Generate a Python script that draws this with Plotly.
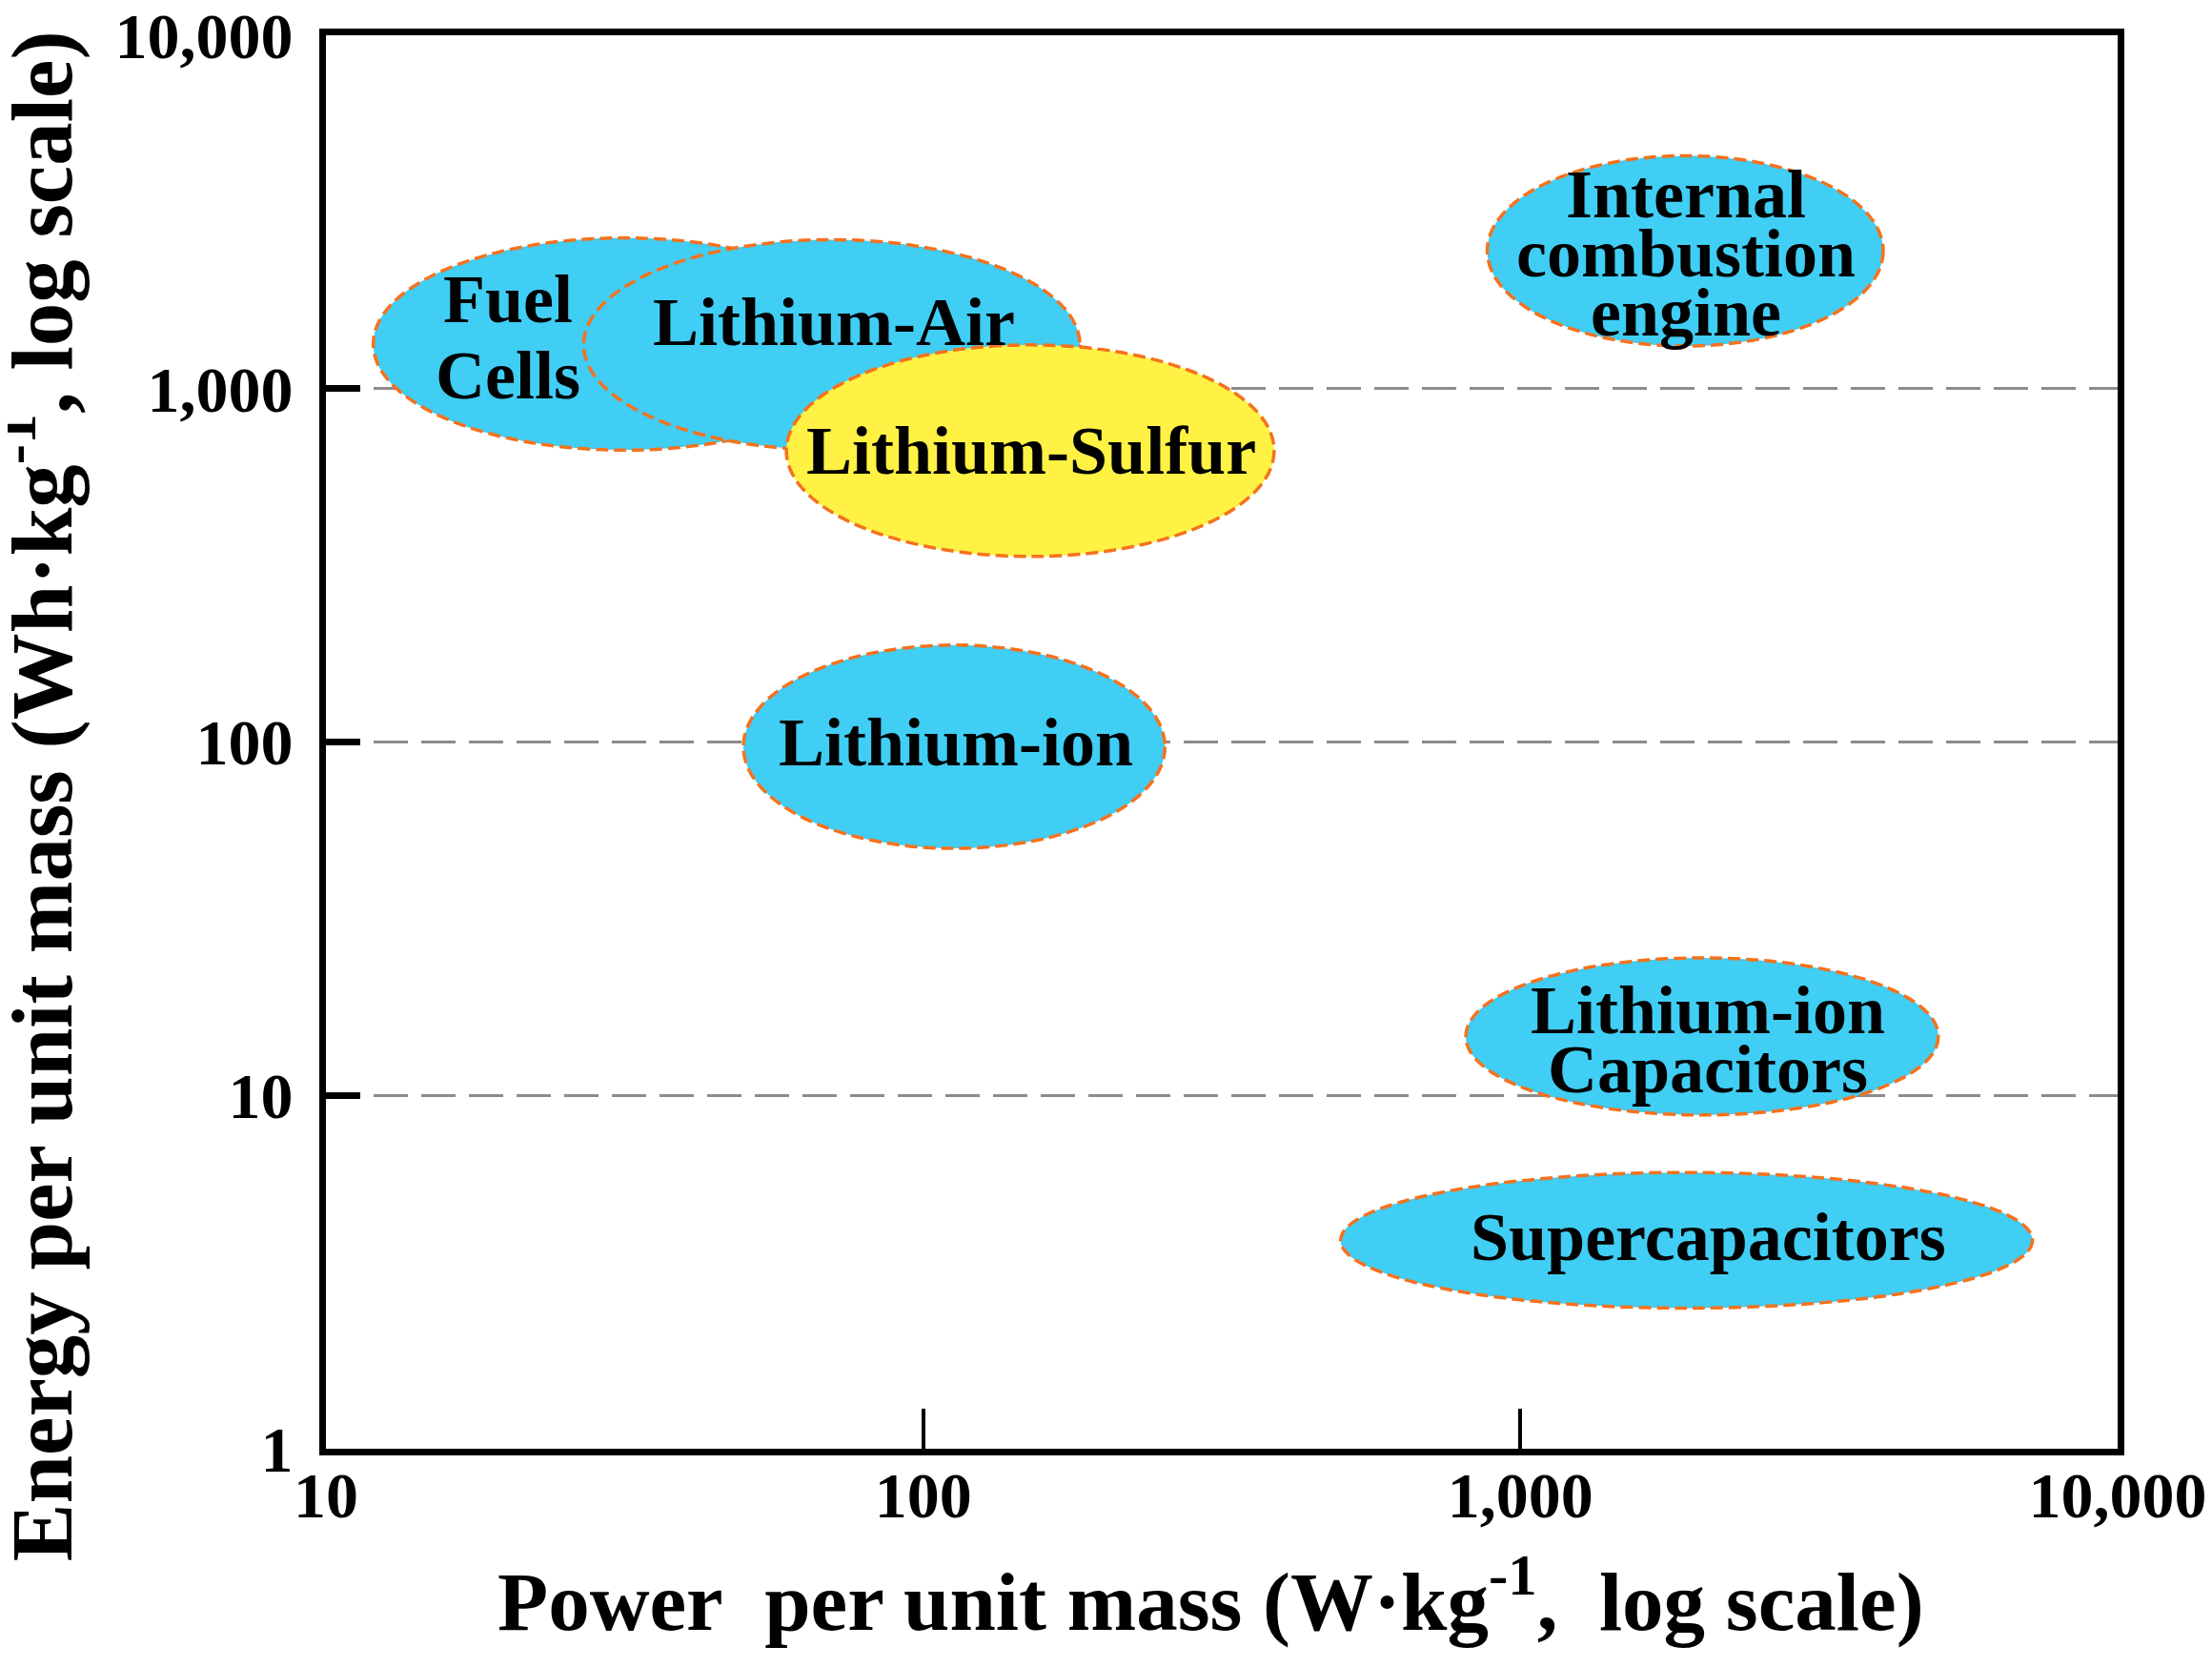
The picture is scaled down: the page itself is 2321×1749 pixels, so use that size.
import numpy as np
import plotly.graph_objects as go

# Ragone-style map: each technology is an ellipse spanning a power / energy range
technologies = ["Fuel\nCells", "Lithium-Air", "Lithium-Sulfur", "Lithium-ion",
                "Internal\ncombustion\nengine", "Lithium-ion\nCapacitors", "Supercapacitors"]
power_low = [12, 27, 59, 50, 880, 810, 500]          # W/kg
power_high = [83, 183, 387, 254, 4050, 5010, 7200]
energy_low = [670, 670, 335, 50, 1320, 8.8, 2.5]     # Wh/kg
energy_high = [2670, 2640, 1330, 188, 4560, 24.5, 6.05]
label_power = [20.2, 70.9, 151.6, 113.4, 1893, 2060, 2067]
label_energy = [1396, 1542, 665, 99.4, 2415, 14.4, 3.96]
highlighted = "Lithium-Sulfur"

x_ticks = [10, 100, 1000, 10000]
x_ticktext = ["10", "100", "1,000", "10,000"]
y_ticks = [1, 10, 100, 1000, 10000]
y_ticktext = ["1", "10", "100", "1,000", "10,000"]

CYAN = "#40CEF4"
YELLOW = "#FFF244"
ORANGE = "#F5721E"
FONT = "Liberation Serif"

fig = go.Figure()
# invisible trace so the axes exist
fig.add_trace(go.Scatter(x=[10, 10000], y=[1, 10000], mode="markers",
                         marker=dict(opacity=0), hoverinfo="skip", showlegend=False))

for i, name in enumerate(technologies):
    fig.add_shape(type="circle", xref="x", yref="y",
                  x0=power_low[i], x1=power_high[i], y0=energy_low[i], y1=energy_high[i],
                  fillcolor=YELLOW if name == highlighted else CYAN,
                  line=dict(color=ORANGE, width=3.5, dash="13px,6px"), layer="above")

for i, name in enumerate(technologies):
    lines = name.split("\n")
    gap = 80 if name.startswith("Fuel") else 62
    n = len(lines)
    for k, txt in enumerate(lines):
        fig.add_annotation(x=np.log10(label_power[i]), y=np.log10(label_energy[i]),
                           xref="x", yref="y", text=txt, showarrow=False,
                           xanchor="center", yanchor="middle",
                           yshift=((n - 1) / 2 - k) * gap,
                           font=dict(family=FONT, size=72, color="black", weight="bold"))

# axis titles
fig.add_annotation(xref="paper", yref="paper", x=0.494, y=-0.104,
                   text="Power\u00a0\u00a0per unit mass (W·kg<sup>-1</sup>,\u00a0\u00a0log scale)",
                   showarrow=False, xanchor="center", yanchor="middle",
                   font=dict(family=FONT, size=87, color="black", weight="bold"))
fig.add_annotation(xref="paper", yref="paper", x=-0.162, y=0.462, textangle=-90,
                   text="Energy per unit mass (Wh·kg<sup>-1</sup>, log scale)",
                   showarrow=False, xanchor="center", yanchor="middle",
                   font=dict(family=FONT, size=91, color="black", weight="bold"))

fig.update_xaxes(type="log", range=[1, 4], tickvals=x_ticks, ticktext=x_ticktext,
                 showgrid=False, zeroline=False, automargin=False,
                 showline=True, linecolor="black", linewidth=7, mirror=True,
                 ticks="inside", ticklen=42, tickwidth=4, tickcolor="black",
                 ticklabelstandoff=-17, ticklabeloverflow="allow",
                 tickfont=dict(family=FONT, size=68, color="black", weight="bold"))
fig.update_yaxes(type="log", range=[0, 4], tickvals=y_ticks, ticktext=y_ticktext,
                 showgrid=True, gridcolor="#8c8c8c", gridwidth=2.5, griddash="36px,14px",
                 zeroline=False, automargin=False,
                 showline=True, linecolor="black", linewidth=7, mirror=True,
                 ticks="inside", ticklen=36, tickwidth=7, tickcolor="black",
                 ticklabelstandoff=14, ticklabeloverflow="allow",
                 tickfont=dict(family=FONT, size=68, color="black", weight="bold"))

fig.update_layout(
    width=2321, height=1749,
    margin=dict(l=334, r=107, t=29, b=237),
    paper_bgcolor="white", plot_bgcolor="white",
    showlegend=False,
)

fig.write_html("out.html")
